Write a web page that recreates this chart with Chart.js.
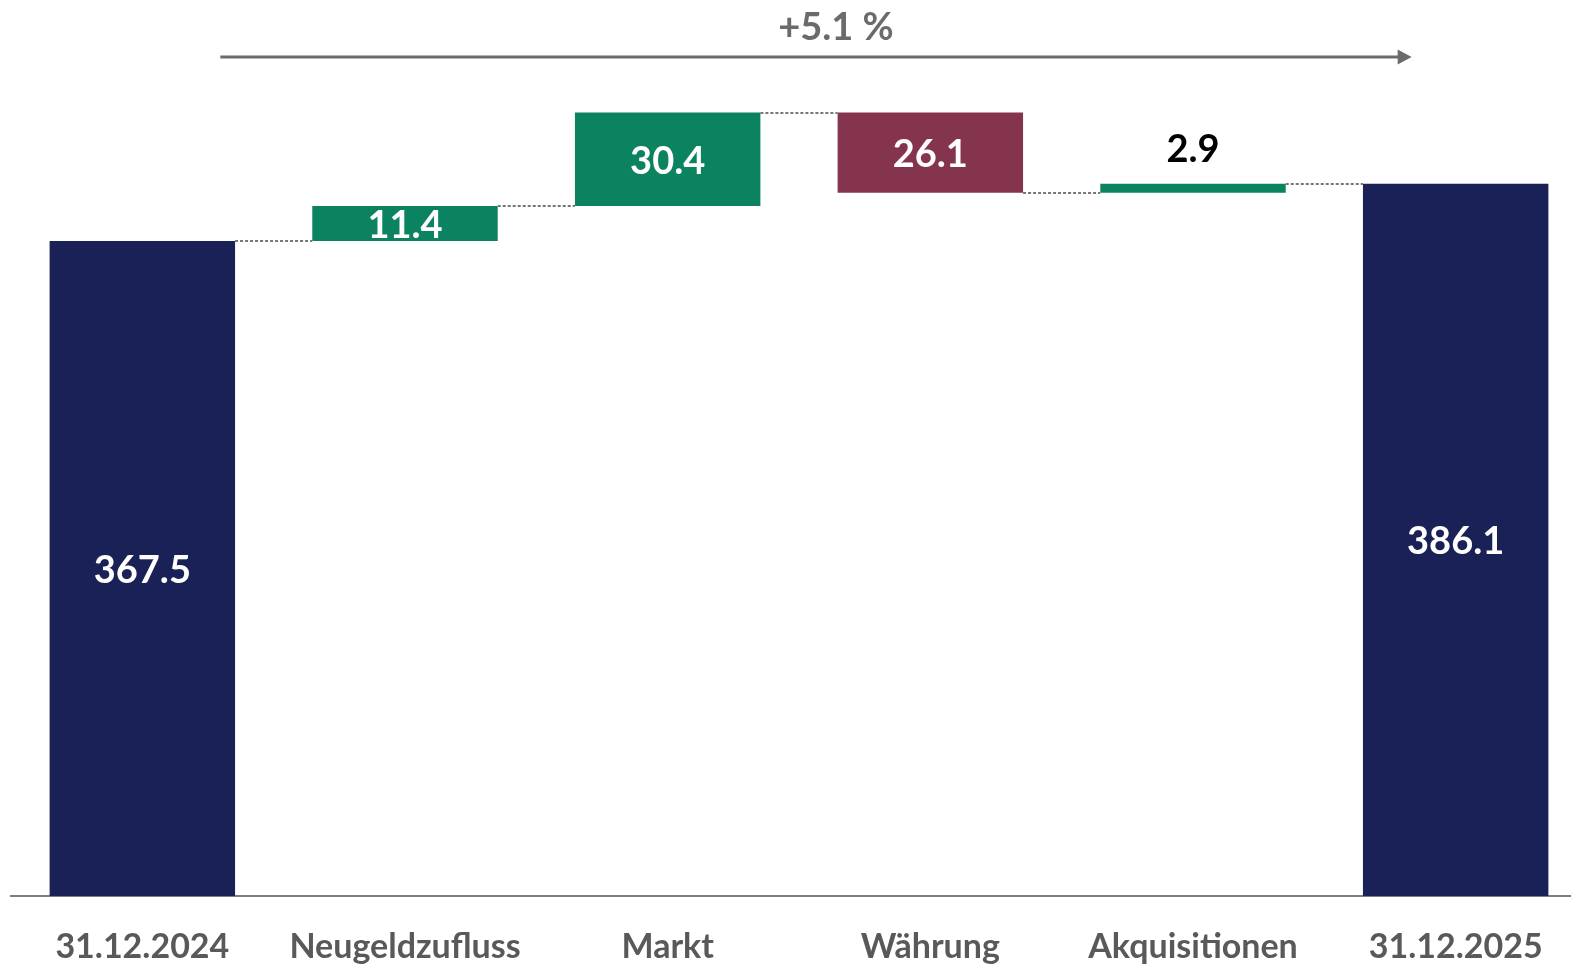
<!DOCTYPE html>
<html>
<head>
<meta charset="utf-8">
<script src="https://cdn.jsdelivr.net/npm/chart.js@4.4.1/dist/chart.umd.min.js"></script>
<style>
  html, body { margin: 0; padding: 0; background: #ffffff; overflow: hidden; }
  #wrap { width: 1571px; height: 964px; overflow: hidden; position: relative; }
</style>
</head>
<body>
<div id="wrap"><canvas id="c" width="1587" height="964"></canvas></div>
<script>
// ---- data ----
const categories = ['31.12.2024', 'Neugeldzufluss', 'Markt', 'Währung', 'Akquisitionen', '31.12.2025'];
const values = [367.5, 11.4, 30.4, -26.1, 2.9, 386.1];
const kinds = ['total', 'delta', 'delta', 'delta', 'delta', 'total'];
const valueLabels = ['367.5', '11.4', '30.4', '26.1', '2.9', '386.1'];
const changeLabel = '+5.1 %';
const axisMin = 154;
const axisMax = 446;

// ---- colours ----
const NAVY = '#1a2156';
const GREEN = '#0b8260';
const MAROON = '#85344e';
const GREY = '#6b6b6b';

// build floating ranges from values
const ranges = [];
let running = 0;
values.forEach((v, i) => {
  if (kinds[i] === 'total') { ranges.push([axisMin, v]); running = v; }
  else { ranges.push([running, running + v]); running += v; }
});
const colors = values.map((v, i) => kinds[i] === 'total' ? NAVY : (v >= 0 ? GREEN : MAROON));

const FONT = 'Lato, "Open Sans", sans-serif';

const waterfallPlugin = {
  id: 'waterfallDeco',
  afterDatasetsDraw(chart) {
    const ctx = chart.ctx;
    const meta = chart.getDatasetMeta(0);
    const y = chart.scales.y;
    const x = chart.scales.x;
    // connectors
    ctx.save();
    ctx.strokeStyle = '#777777';
    ctx.lineWidth = 2;
    ctx.setLineDash([3, 2]);
    for (let i = 0; i < meta.data.length - 1; i++) {
      const b = meta.data[i], n = meta.data[i + 1];
      const level = ranges[i][1];
      const py = Math.round(y.getPixelForValue(level));
      ctx.beginPath();
      ctx.moveTo(b.x + b.width / 2, py);
      ctx.lineTo(n.x - n.width / 2, py);
      ctx.stroke();
    }
    ctx.restore();

    // value labels
    ctx.save();
    ctx.font = 'bold 38px ' + FONT;
    ctx.textAlign = 'center';
    ctx.textBaseline = 'middle';
    meta.data.forEach((b, i) => {
      const top = Math.min(b.y, b.base), bot = Math.max(b.y, b.base);
      const h = bot - top;
      if (h > 30) {
        ctx.fillStyle = '#ffffff';
        ctx.fillText(valueLabels[i], b.x, (top + bot) / 2 + 2);
      } else {
        ctx.fillStyle = '#000000';
        ctx.fillText(valueLabels[i], b.x, top - 34);
      }
    });
    ctx.restore();

    // change arrow
    const x0 = x.getPixelForValue(0) + 78;
    const x1 = x.getPixelForValue(categories.length - 1) - 44;
    const ay = 57;
    ctx.save();
    ctx.strokeStyle = GREY;
    ctx.fillStyle = GREY;
    ctx.lineWidth = 3;
    ctx.beginPath();
    ctx.moveTo(x0, ay);
    ctx.lineTo(x1 - 12, ay);
    ctx.stroke();
    ctx.beginPath();
    ctx.moveTo(x1 - 14, ay - 7.5);
    ctx.lineTo(x1, ay);
    ctx.lineTo(x1 - 14, ay + 7.5);
    ctx.closePath();
    ctx.fill();
    ctx.font = 'bold 38px ' + FONT;
    ctx.textAlign = 'center';
    ctx.textBaseline = 'middle';
    ctx.fillText(changeLabel, (x0 + x1) / 2 + 20, 28);
    ctx.restore();
  }
};

new Chart(document.getElementById('c'), {
  type: 'bar',
  data: {
    labels: categories,
    datasets: [{
      data: ranges,
      backgroundColor: colors,
      borderWidth: 0,
      borderSkipped: false,
      barPercentage: 0.706,
      categoryPercentage: 1.0
    }]
  },
  options: {
    responsive: false,
    animation: false,
    devicePixelRatio: 1,
    layout: { padding: { left: 11, right: 0, top: 0, bottom: 0 } },
    plugins: { legend: { display: false }, tooltip: { enabled: false } },
    scales: {
      x: {
        offset: true,
        grid: { display: false },
        border: { display: true, color: '#7f7f7f', width: 2 },
        ticks: {
          color: '#595959',
          font: { family: FONT, size: 34, weight: 'bold' },
          padding: 23,
          maxRotation: 0,
          autoSkip: false
        },
        afterFit(scale) { scale.height = 68; }
      },
      y: {
        display: false,
        min: axisMin,
        max: axisMax
      }
    }
  },
  plugins: [waterfallPlugin]
});
</script>
</body>
</html>
